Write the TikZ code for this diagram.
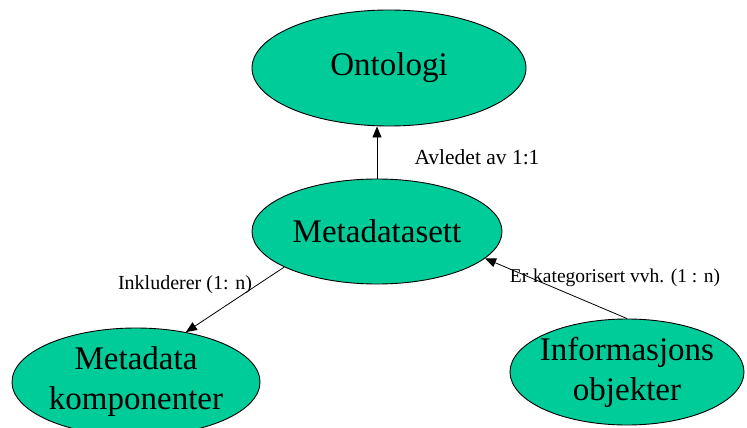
\documentclass[tikz,border=0pt]{standalone}
\usepackage{fontspec}
\setmainfont{Liberation Serif}
\usetikzlibrary{shapes.geometric,arrows.meta}

\begin{document}
\begin{tikzpicture}[x=1pt,y=-1pt,
  entity/.style={ellipse,draw=black,line width=0.9pt,fill=cgreen,inner sep=0pt,align=center,font=\fontsize{33}{40}\selectfont},
  rel/.style={draw=black,line width=0.8pt,-{Triangle[length=11pt,width=9pt]}},
  rlabel/.style={inner sep=0pt,font=\fontsize{20}{24}\selectfont}]
\definecolor{cgreen}{RGB}{0,204,153}
\useasboundingbox (0,0) rectangle (747,428);
% the four entities
\node[entity,minimum width=274pt,minimum height=116pt] (onto) at (389,68) {Ontologi};
\node[entity,minimum width=250pt,minimum height=105pt] (meta) at (377,231.5) {Metadatasett};
\node[entity,minimum width=248pt,minimum height=108pt] (komp) at (136,382) {Metadata\\komponenter};
\node[entity,minimum width=234pt,minimum height=106pt,inner xsep=-14pt] (info) at (627,372) {Informasjons\\objekter};
% relation labels
\node[rlabel,font=\fontsize{21.5}{24}\selectfont] (lavl) at (477,157) {Avledet av 1:1};
\node[rlabel] (link) at (185,285) {Inkluderer (1: n)};
\node[rlabel,font=\fontsize{19.5}{24}\selectfont] (lkat) at (615,278) {Er kategorisert vvh. (1 : n)};
% relations
\draw[rel] (meta) -- (meta |- onto.south);
\draw[rel] (meta.201.6) -- (komp.45);
\draw[rel] (info.north) -- (meta.346.5);
\end{tikzpicture}
\end{document}
